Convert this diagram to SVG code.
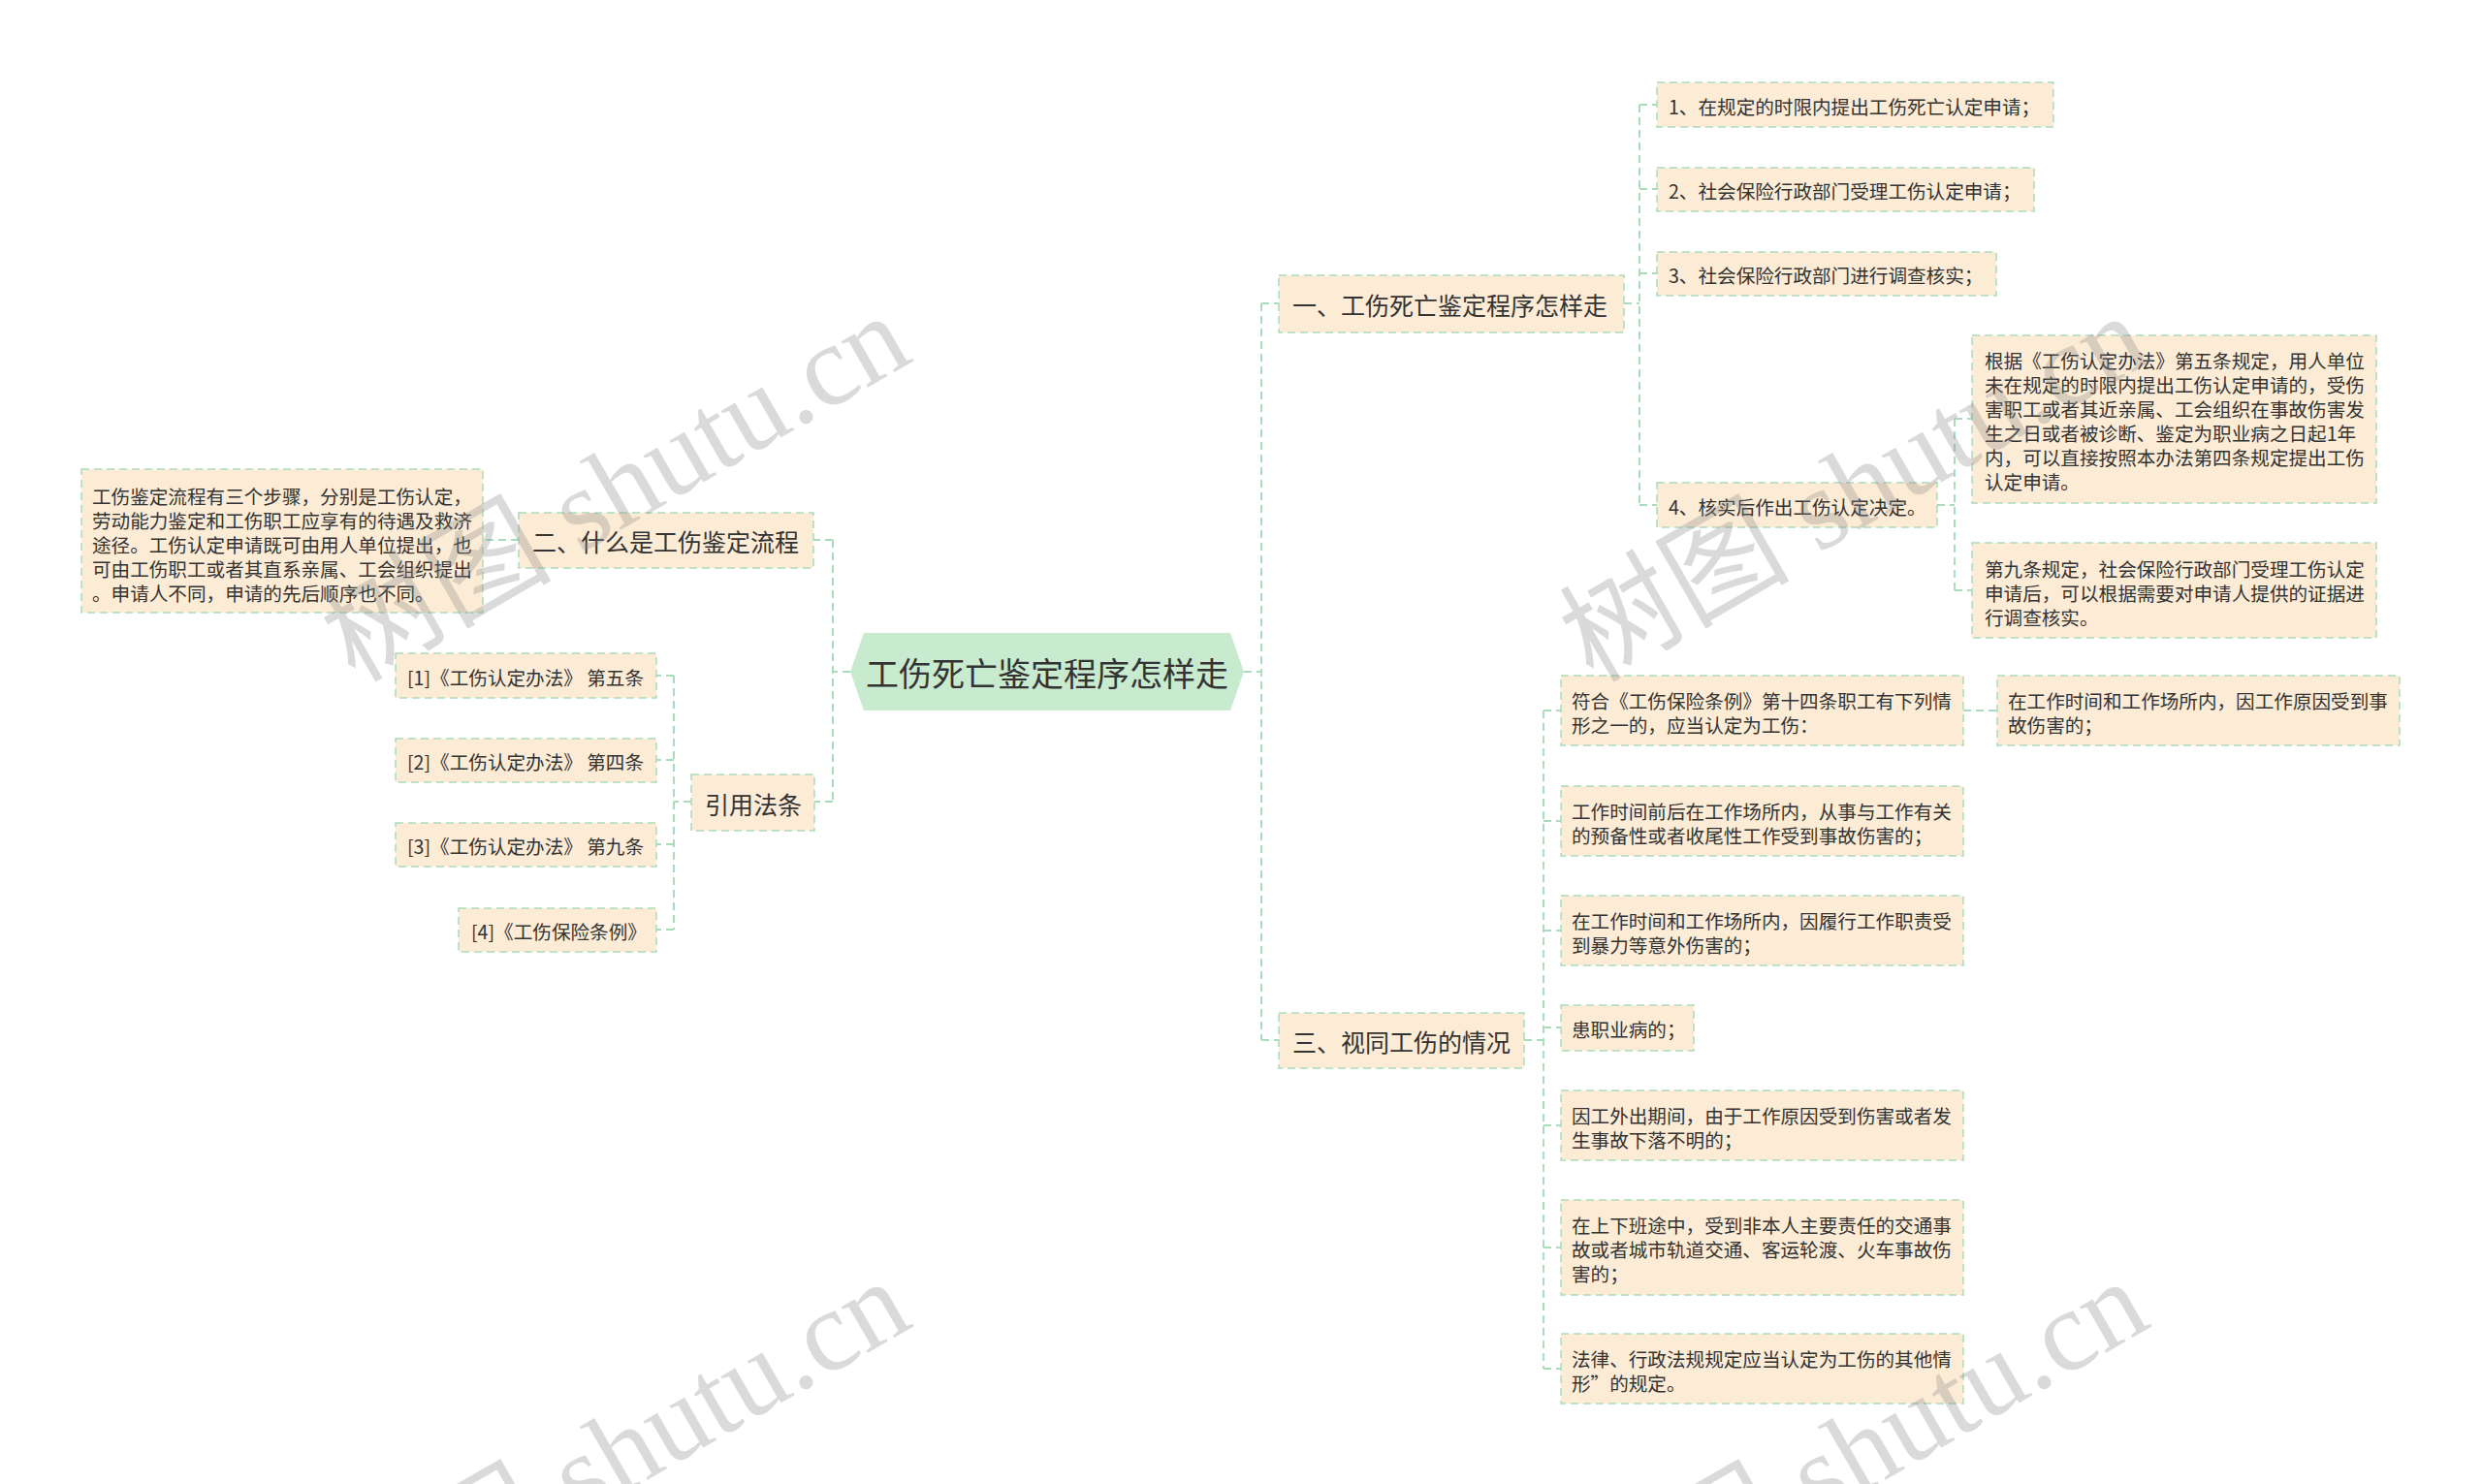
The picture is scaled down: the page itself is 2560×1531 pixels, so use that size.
<svg xmlns="http://www.w3.org/2000/svg" width="2560" height="1531" viewBox="0 0 2560 1531">
<style>
.box{fill:#FCEBD5;stroke:#A9DCBB;stroke-width:1.5;stroke-dasharray:8 5}
.root{fill:#C8EBCF}
.conn{fill:none;stroke:#A9DCBB;stroke-width:2;stroke-dasharray:8 5}
.t{font-family:"Noto Sans CJK SC","Noto Sans",sans-serif;fill:#333;dominant-baseline:central}
.s{font-size:19.6px}
.m{font-size:25px}
.l{font-size:34px}
.wm{font-family:"Liberation Serif","Noto Sans CJK SC",serif;font-size:119px;fill:#888;opacity:0.3}
</style>
<rect width="2560" height="1531" fill="#fff"/>
<g id="connectors">
<path class="conn" d="M1283 693H1301M1301 313V1073M1301 313H1319M1301 1073H1319"/>
<path class="conn" d="M877 693H859M859 557V827M859 557H839M859 827H839"/>
<path class="conn" d="M1675 313H1691M1691 108V521M1691 108H1709M1691 195H1709M1691 282H1709M1691 521H1709"/>
<path class="conn" d="M1998 521H2016M2016 432V609M2016 432H2034M2016 609H2034"/>
<path class="conn" d="M1572 1073H1592M1592 733V1412M1592 733H1610M1592 847H1610M1592 960H1610M1592 1060H1610M1592 1161H1610M1592 1287H1610M1592 1412H1610"/>
<path class="conn" d="M2025 733H2060"/>
<path class="conn" d="M535 557H498"/>
<path class="conn" d="M713 827H695M695 697V959M695 697H677M695 784H677M695 871H677M695 959H677"/>
</g>
<g id="root">
<polygon class="root" points="877,693 891,653 1269,653 1283,693 1269,733 891,733"/>
<text class="t l" x="1080" y="693" text-anchor="middle">工伤死亡鉴定程序怎样走</text>
</g>
<g id="b1">
<rect class="box" x="1319" y="284" width="356" height="59"/>
<text class="t m" x="1333" y="314">一、工伤死亡鉴定程序怎样走</text>
</g>
<g id="b1c1">
<rect class="box" x="1709" y="85" width="409" height="46"/>
<text class="t s" x="1721" y="109">1、在规定的时限内提出工伤死亡认定申请；</text>
</g>
<g id="b1c2">
<rect class="box" x="1709" y="173" width="389" height="45"/>
<text class="t s" x="1721" y="196">2、社会保险行政部门受理工伤认定申请；</text>
</g>
<g id="b1c3">
<rect class="box" x="1709" y="260" width="350" height="45"/>
<text class="t s" x="1721" y="283">3、社会保险行政部门进行调查核实；</text>
</g>
<g id="b1c4">
<rect class="box" x="1709" y="498" width="289" height="46"/>
<text class="t s" x="1721" y="522">4、核实后作出工伤认定决定。</text>
</g>
<g id="b1c4a">
<rect class="box" x="2034" y="346" width="417" height="173"/>
<text class="t s" x="2047"><tspan x="2047" y="371">根据《工伤认定办法》第五条规定，用人单位</tspan><tspan x="2047" y="396">未在规定的时限内提出工伤认定申请的，受伤</tspan><tspan x="2047" y="421">害职工或者其近亲属、工会组织在事故伤害发</tspan><tspan x="2047" y="446">生之日或者被诊断、鉴定为职业病之日起1年</tspan><tspan x="2047" y="471">内，可以直接按照本办法第四条规定提出工伤</tspan><tspan x="2047" y="496">认定申请。</tspan></text>
</g>
<g id="b1c4b">
<rect class="box" x="2034" y="560" width="417" height="98"/>
<text class="t s" x="2047"><tspan x="2047" y="586">第九条规定，社会保险行政部门受理工伤认定</tspan><tspan x="2047" y="611">申请后，可以根据需要对申请人提供的证据进</tspan><tspan x="2047" y="636">行调查核实。</tspan></text>
</g>
<g id="b3">
<rect class="box" x="1319" y="1045" width="253" height="57"/>
<text class="t m" x="1333" y="1074">三、视同工伤的情况</text>
</g>
<g id="d1">
<rect class="box" x="1610" y="697" width="415" height="72"/>
<text class="t s" x="1621"><tspan x="1621" y="722">符合《工伤保险条例》第十四条职工有下列情</tspan><tspan x="1621" y="747">形之一的，应当认定为工伤：</tspan></text>
</g>
<g id="d1a">
<rect class="box" x="2060" y="697" width="415" height="72"/>
<text class="t s" x="2071"><tspan x="2071" y="722">在工作时间和工作场所内，因工作原因受到事</tspan><tspan x="2071" y="747">故伤害的；</tspan></text>
</g>
<g id="d2">
<rect class="box" x="1610" y="811" width="415" height="72"/>
<text class="t s" x="1621"><tspan x="1621" y="836">工作时间前后在工作场所内，从事与工作有关</tspan><tspan x="1621" y="861">的预备性或者收尾性工作受到事故伤害的；</tspan></text>
</g>
<g id="d3">
<rect class="box" x="1610" y="924" width="415" height="72"/>
<text class="t s" x="1621"><tspan x="1621" y="949">在工作时间和工作场所内，因履行工作职责受</tspan><tspan x="1621" y="974">到暴力等意外伤害的；</tspan></text>
</g>
<g id="d4">
<rect class="box" x="1610" y="1037" width="137" height="47"/>
<text class="t s" x="1621" y="1061">患职业病的；</text>
</g>
<g id="d5">
<rect class="box" x="1610" y="1125" width="415" height="72"/>
<text class="t s" x="1621"><tspan x="1621" y="1150">因工外出期间，由于工作原因受到伤害或者发</tspan><tspan x="1621" y="1175">生事故下落不明的；</tspan></text>
</g>
<g id="d6">
<rect class="box" x="1610" y="1238" width="415" height="98"/>
<text class="t s" x="1621"><tspan x="1621" y="1263">在上下班途中，受到非本人主要责任的交通事</tspan><tspan x="1621" y="1288">故或者城市轨道交通、客运轮渡、火车事故伤</tspan><tspan x="1621" y="1313">害的；</tspan></text>
</g>
<g id="d7">
<rect class="box" x="1610" y="1376" width="415" height="72"/>
<text class="t s" x="1621"><tspan x="1621" y="1401">法律、行政法规规定应当认定为工伤的其他情</tspan><tspan x="1621" y="1426">形”的规定。</tspan></text>
</g>
<g id="b2">
<rect class="box" x="535" y="529" width="304" height="57"/>
<text class="t m" x="549" y="558">二、什么是工伤鉴定流程</text>
</g>
<g id="b2c1">
<rect class="box" x="84" y="484" width="414" height="148"/>
<text class="t s" x="95"><tspan x="95" y="511">工伤鉴定流程有三个步骤，分别是工伤认定，</tspan><tspan x="95" y="536">劳动能力鉴定和工伤职工应享有的待遇及救济</tspan><tspan x="95" y="561">途径。工伤认定申请既可由用人单位提出，也</tspan><tspan x="95" y="586">可由工伤职工或者其直系亲属、工会组织提出</tspan><tspan x="95" y="611">。申请人不同，申请的先后顺序也不同。</tspan></text>
</g>
<g id="b4">
<rect class="box" x="713" y="799" width="127" height="58"/>
<text class="t m" x="727" y="829">引用法条</text>
</g>
<g id="r1">
<rect class="box" x="408" y="674" width="269" height="46"/>
<text class="t s" x="420" y="698">[1]《工伤认定办法》 第五条</text>
</g>
<g id="r2">
<rect class="box" x="408" y="762" width="269" height="45"/>
<text class="t s" x="420" y="785">[2]《工伤认定办法》 第四条</text>
</g>
<g id="r3">
<rect class="box" x="408" y="849" width="269" height="45"/>
<text class="t s" x="420" y="872">[3]《工伤认定办法》 第九条</text>
</g>
<g id="r4">
<rect class="box" x="473" y="937" width="204" height="45"/>
<text class="t s" x="486" y="960">[4]《工伤保险条例》</text>
</g>
<g id="watermarks">
<text class="wm" transform="translate(366 705) rotate(-30)">树图 shutu.cn</text>
<text class="wm" transform="translate(1643 705) rotate(-30)">树图 shutu.cn</text>
<text class="wm" transform="translate(366 1701) rotate(-30)">树图 shutu.cn</text>
<text class="wm" transform="translate(1643 1701) rotate(-30)">树图 shutu.cn</text>
</g>
</svg>
